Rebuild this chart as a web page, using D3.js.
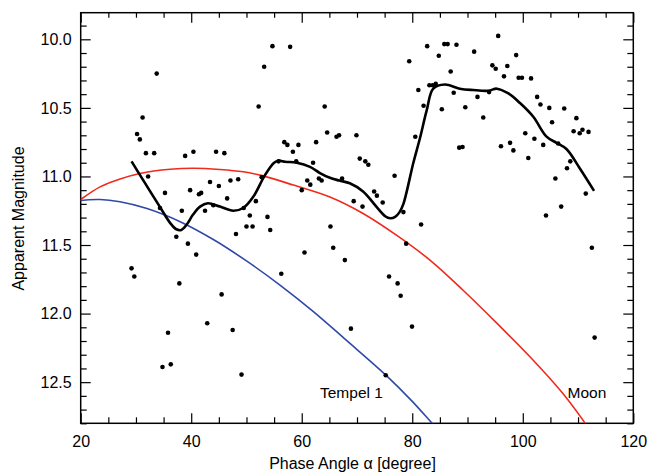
<!DOCTYPE html>
<html><head><meta charset="utf-8">
<script src="https://cdn.jsdelivr.net/npm/d3@7"></script>
<style>
html,body{margin:0;padding:0;background:#fff;}
svg{display:block;font-family:"Liberation Sans",Arial,Helvetica,sans-serif;}
</style></head>
<body><svg id="c" width="648" height="473"></svg>
<script>
// Observed magnitudes: phase angle (deg) and apparent magnitude
const obsAlpha = [29.2,29.7,30.2,30.7,31.2,31.8,32.2,33.3,33.75,34.35,34.8,35.25,35.8,36.3,37.3,37.85,38.3,38.9,39.4,39.8,40.4,40.9,41.4,41.8,42.5,42.9,43.4,44.0,44.5,45.0,45.5,46.0,46.5,47.1,47.5,48.1,48.5,49.1,49.5,50.0,50.6,51.1,51.7,52.2,52.75,53.2,53.8,54.3,54.7,55.8,56.3,56.85,57.4,57.9,58.4,59.0,59.4,60.0,60.5,61.0,61.55,62.05,62.6,63.1,63.6,64.15,64.6,65.2,65.7,66.3,66.75,67.3,67.8,68.9,69.4,69.9,70.5,71.0,71.5,72.05,73.1,73.6,74.65,75.2,75.8,76.8,77.35,77.9,78.4,78.9,79.45,79.95,80.55,81.1,81.6,82.05,82.7,83.1,83.7,84.25,84.8,85.35,85.8,86.4,86.95,87.5,88.0,88.5,89.1,89.6,91.2,91.8,92.85,93.9,94.5,95.1,95.55,96.05,96.6,97.2,97.7,98.3,98.8,99.25,99.85,100.45,101.0,101.5,102.1,102.6,103.2,103.7,104.2,104.8,105.3,105.9,106.4,106.95,107.5,108.0,108.6,109.2,109.7,110.3,110.8,111.4,111.9,112.5,113.0];
const obsMag = [11.67,11.73,10.69,10.73,10.57,10.83,11.00,10.83,10.25,11.23,12.39,11.12,12.14,12.37,11.44,11.78,11.25,10.85,11.49,11.10,10.82,11.57,11.13,11.12,11.25,12.07,11.04,11.21,10.82,11.07,11.86,10.83,11.16,11.03,12.12,11.42,11.02,12.445,11.23,11.365,11.285,11.365,11.18,10.49,11.005,10.20,11.295,11.39,10.05,10.89,11.71,10.75,10.77,10.055,10.82,10.89,10.77,11.10,11.555,11.03,11.06,10.90,10.75,11.015,11.03,10.49,10.68,11.365,11.52,10.71,10.70,11.015,11.61,12.11,11.18,10.70,10.87,11.22,10.89,10.915,11.11,11.14,11.19,12.45,11.73,10.995,11.78,11.87,11.26,11.49,10.16,12.095,10.71,10.37,11.35,10.485,10.05,10.335,10.335,10.325,10.12,10.51,10.035,10.035,10.235,10.39,10.04,10.79,10.785,10.495,10.09,10.42,10.57,10.385,10.19,10.215,9.975,10.78,10.27,10.195,10.755,10.81,10.115,10.28,10.28,10.685,10.865,10.285,10.725,10.42,10.475,10.77,11.285,10.50,10.605,11.015,10.76,11.22,10.505,10.94,10.89,10.67,10.575,10.685,10.66,11.125,10.675,11.52,12.175];

// Smoothed fit (black)
const fitAlpha = [29.2,31.5,34.3,36.2,37.3,38.2,39.2,40.3,41.6,43.0,45.2,47.6,49.4,51.2,53.35,55.0,55.8,57.0,59.1,61.5,63.3,65.1,66.8,68.7,71.1,73.5,75.1,76.0,76.9,77.7,78.4,80.2,81.4,82.6,83.8,85.9,88.6,91.0,93.8,95.3,97.4,99.5,101.9,104.3,106.1,107.9,110.3,112.9];
const fitMag = [10.89,11.04,11.22,11.34,11.385,11.39,11.35,11.28,11.22,11.195,11.22,11.25,11.23,11.15,10.99,10.90,10.885,10.893,10.90,10.93,10.975,11.01,11.03,11.05,11.11,11.22,11.29,11.305,11.295,11.26,11.2,10.9,10.72,10.52,10.36,10.33,10.36,10.37,10.375,10.36,10.395,10.465,10.565,10.71,10.755,10.80,10.94,11.105];

// Moon phase curve (red)
const moonAlpha = [18,20,23.5,27,30.7,36.2,40.4,45.2,49.4,53,58.5,65.1,71.1,77.2,83.2,89.2,95.3,101.3,107.3,111.3,113];
const moonMag = [11.23,11.168,11.076,11.02,10.978,10.947,10.94,10.949,10.966,10.996,11.063,11.15,11.27,11.43,11.61,11.83,12.07,12.315,12.585,12.80,12.9];

// Tempel 1 phase curve (blue)
const tempAlpha = [18,20,23.5,27.1,32,38,44,50,56,62,68,75.13,80,83.6,85];
const tempMag = [11.19,11.175,11.168,11.185,11.234,11.33,11.46,11.616,11.79,11.982,12.192,12.445,12.64,12.80,12.86];

const xTicks = [20,40,60,80,100,120];
const yTicks = [10.0,10.5,11.0,11.5,12.0,12.5];
const curveLabels = ["Tempel 1","Moon"];

const L=80.7, R=633.3, T=12.7, B=423.3;
const FS = "16px";
const svg = d3.select("#c");
const x = d3.scaleLinear().domain([20,120]).range([L,R]);
const y = d3.scaleLinear().domain([9.806,12.8]).range([T,B]);

const xMinor = d3.range(20,121,5).filter(v=>v%20!==0);
const yMinor = d3.range(99,129,1).map(v=>v/10).filter(v=>Math.round(v*10)%5!==0);

svg.append("defs").append("clipPath").attr("id","clip")
  .append("rect").attr("x",L).attr("y",T).attr("width",R-L).attr("height",B-T);

function styleAxis(g){
  g.select(".domain").remove();
  g.selectAll("line").attr("stroke","#000").attr("stroke-width",1.2);
  g.selectAll("text").attr("fill","#000").attr("font-size",FS);
}
// bottom
svg.append("g").attr("transform",`translate(0,${B})`)
  .call(d3.axisBottom(x).tickValues(xTicks).tickFormat(d3.format("d")).tickSize(-10).tickPadding(12)).call(styleAxis);
svg.append("g").attr("transform",`translate(0,${B})`)
  .call(d3.axisBottom(x).tickValues(xMinor).tickFormat("").tickSize(-6)).call(styleAxis);
// top
svg.append("g").attr("transform",`translate(0,${T})`)
  .call(d3.axisTop(x).tickValues(xTicks).tickFormat("").tickSize(-10)).call(styleAxis);
svg.append("g").attr("transform",`translate(0,${T})`)
  .call(d3.axisTop(x).tickValues(xMinor).tickFormat("").tickSize(-5)).call(styleAxis);
// left
svg.append("g").attr("transform",`translate(${L},0)`)
  .call(d3.axisLeft(y).tickValues(yTicks).tickFormat(d3.format(".1f")).tickSize(-10).tickPadding(9)).call(styleAxis);
svg.append("g").attr("transform",`translate(${L},0)`)
  .call(d3.axisLeft(y).tickValues(yMinor).tickFormat("").tickSize(-6)).call(styleAxis);
// right
svg.append("g").attr("transform",`translate(${R},0)`)
  .call(d3.axisRight(y).tickValues(yTicks).tickFormat("").tickSize(-10)).call(styleAxis);
svg.append("g").attr("transform",`translate(${R},0)`)
  .call(d3.axisRight(y).tickValues(yMinor).tickFormat("").tickSize(-6)).call(styleAxis);

// frame
svg.append("rect").attr("x",L).attr("y",T).attr("width",R-L).attr("height",B-T)
  .attr("fill","none").attr("stroke","#000").attr("stroke-width",1.5);

const plot = svg.append("g").attr("clip-path","url(#clip)");
const line = d3.line().curve(d3.curveCatmullRom.alpha(0.5)).x(d=>x(d[0])).y(d=>y(d[1]));

plot.append("path").datum(moonAlpha.map((a,i)=>[a,moonMag[i]]))
  .attr("d",line).attr("fill","none").attr("stroke","#f02a1c").attr("stroke-width",1.6);
plot.append("path").datum(tempAlpha.map((a,i)=>[a,tempMag[i]]))
  .attr("d",line).attr("fill","none").attr("stroke","#3049a8").attr("stroke-width",1.6);

plot.selectAll("circle").data(obsAlpha.map((a,i)=>[a,obsMag[i]])).join("circle")
  .attr("cx",d=>x(d[0])).attr("cy",d=>y(d[1])).attr("r",2.3).attr("fill","#000");

plot.append("path").datum(fitAlpha.map((a,i)=>[a,fitMag[i]]))
  .attr("d",line).attr("fill","none").attr("stroke","#000").attr("stroke-width",2.6)
  .attr("stroke-linejoin","round").attr("stroke-linecap","butt");

// curve labels
svg.append("text").attr("x",320).attr("y",398.3).attr("font-size","15.5px").text(curveLabels[0]);
svg.append("text").attr("x",567.5).attr("y",398.3).attr("font-size","15.5px").text(curveLabels[1]);

// axis titles
svg.append("text").attr("x",352.5).attr("y",469.3).attr("text-anchor","middle").attr("font-size",FS)
  .text("Phase Angle α [degree]");
svg.append("text").attr("transform","translate(24,218.5) rotate(-90)").attr("text-anchor","middle").attr("font-size",FS)
  .text("Apparent Magnitude");
</script></body></html>
